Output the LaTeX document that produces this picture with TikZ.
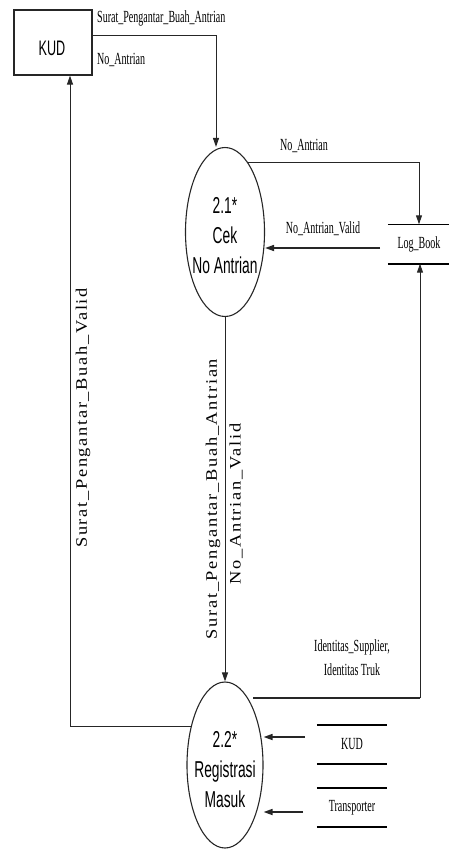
\documentclass[tikz,border=0pt]{standalone}
\usepackage{fontspec}
\usepackage{graphicx}
\setmainfont{Liberation Serif}
\newfontfamily\procfont{Liberation Sans}
\usetikzlibrary{arrows.meta,shapes.geometric,calc}

% condensed serif for data-flow labels
\newcommand{\flowtext}[1]{\scalebox{0.59}[1]{\fontsize{17}{24}\selectfont #1}}
% widened, letter-spaced serif for the vertical labels
\newcommand{\vtext}[1]{\scalebox{1.15}[1]{\fontsize{16}{16}\selectfont\addfontfeatures{LetterSpace=9.1}#1}}
% condensed sans for process and entity names
\newcommand{\proctext}[1]{\scalebox{0.6}[1]{\procfont\fontsize{23}{30}\selectfont
  \begin{tabular}{@{}c@{}}#1\end{tabular}}}

\tikzset{
  flow/.style={draw=black!85, line width=1pt, -{Triangle[length=9pt,width=6pt]}},
  flowthick/.style={flow, line width=1.6pt},
  plain/.style={draw=black!85, line width=1pt},
  process/.style={ellipse, draw=black!85, line width=1.1pt, inner sep=0pt},
  entity/.style={rectangle, draw=black!85, line width=1.2pt, minimum width=78pt,
    minimum height=65pt, inner sep=0pt},
  store/.style={inner sep=0pt, minimum height=39pt},
  storeline/.style={draw=black, line width=1.6pt},
  lbl/.style={inner sep=0pt, text=black},
  vlbl/.style={inner sep=0pt, rotate=90, text=black}
}

\begin{document}
\begin{tikzpicture}[x=1pt,y=-1pt]
\useasboundingbox (0,0) rectangle (449,852);

% external entity
\node[entity] (kud) at (53,42.5) {};
\node[lbl] (kudt) at (52,48) {\scalebox{0.6}[1]{\procfont\fontsize{21}{21}\selectfont KUD}};

% processes
\node[process, minimum width=79pt, minimum height=169pt] (p1) at (225,232) {};
\node[lbl] (p1t) at (225,237) {\proctext{2.1*\\Cek\\No Antrian}};
\node[process, minimum width=76pt, minimum height=166pt] (p2) at (225,765) {};
\node[lbl] (p2t) at (225,771) {\proctext{2.2*\\Registrasi\\Masuk}};

% data stores
\node[store, minimum width=62pt] (lb) at (419,244) {\flowtext{Log\_Book}};
\draw[storeline] (lb.north west) -- (lb.north east);
\draw[storeline] (lb.south west) -- (lb.south east);
\node[store, minimum width=70pt] (ks) at (352,744.5) {\flowtext{KUD}};
\draw[storeline] (ks.north west) -- (ks.north east);
\draw[storeline] (ks.south west) -- (ks.south east);
\node[store, minimum width=70pt] (ts) at (352,807.5) {\flowtext{Transporter}};
\draw[storeline] (ts.north west) -- (ts.north east);
\draw[storeline] (ts.south west) -- (ts.south east);

% bend points and free ends of the flows
\coordinate (a1) at (216,35);
\coordinate (lbin) at (380,248);
\coordinate (c2) at (70,726);
\coordinate (d0) at (253,698);
\coordinate (d1) at (420,698);
\coordinate (k1) at (305,737);
\coordinate (t1) at (303,812);

% flows
\draw[flow] (kud.east |- a1) -- (a1) -- (a1 |- p1.north);
\draw[flow] (p1.72) -| (lb.north);
\draw[flowthick] (lbin) -- (lbin -| p1.east);
\draw[flow] (p1.south) -- (p2.north);
\draw[flow] (p2.132) -| (c2 |- kud.south);
\draw[plain, line width=1.6pt] (d0) -- (d1);
\draw[flow] (d1) -- (d1 |- lb.south);
\draw[flowthick] (k1) -- (k1 -| p2.east);
\draw[flowthick] (t1) -- (t1 -| p2.east);

% flow labels
\node[lbl, anchor=base west] (f1) at (97,22) {\flowtext{Surat\_Pengantar\_Buah\_Antrian}};
\node[lbl, anchor=base west] (f2) at (97,64) {\flowtext{No\_Antrian}};
\node[lbl, anchor=base] (f3) at (304,150) {\flowtext{No\_Antrian}};
\node[lbl, anchor=base] (f4) at (323,233) {\flowtext{No\_Antrian\_Valid}};
\node[vlbl] (f5) at (83,418) {\vtext{Surat\_Pengantar\_Buah\_Valid}};
\node[vlbl] (f6) at (213,499) {\vtext{Surat\_Pengantar\_Buah\_Antrian}};
\node[vlbl] (f7) at (236,504) {\vtext{No\_Antrian\_Valid}};
\node[lbl, anchor=base] (f8) at (352,651) {\flowtext{Identitas\_Supplier,}};
\node[lbl, anchor=base] (f9) at (352,675) {\flowtext{Identitas Truk}};
\end{tikzpicture}
\end{document}
